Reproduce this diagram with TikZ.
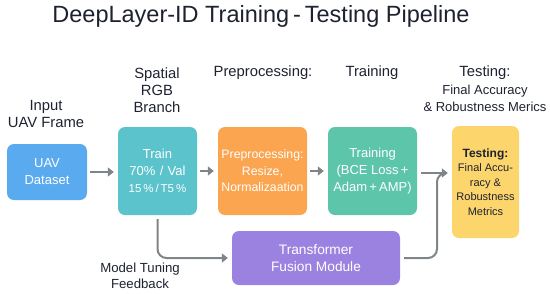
\documentclass[tikz,border=0pt]{standalone}
\usepackage{fontspec}
\setmainfont{Liberation Sans}
\usetikzlibrary{arrows.meta}
\definecolor{cblue}{HTML}{5AAAF0}
\definecolor{cteal}{HTML}{5BC3CC}
\definecolor{corange}{HTML}{FBA550}
\definecolor{cgreen}{HTML}{5DC5AA}
\definecolor{cyellow}{HTML}{FCD66C}
\definecolor{cpurple}{HTML}{9C82E0}
\definecolor{ctext}{HTML}{1E2230}
\definecolor{carrow}{HTML}{7F8488}
\begin{document}
\begin{tikzpicture}[x=1pt,y=-1pt,
  box/.style={rounded corners=7pt, align=center, inner sep=0pt, text=white,
    font=\fontsize{13}{17}\selectfont},
  lab/.style={align=center, text=ctext, font=\fontsize{14.8}{17}\selectfont},
  conn/.style={draw=carrow, line width=2pt, -{Triangle[length=6pt,width=9pt]}},
  line/.style={draw=carrow, line width=2pt}]
\useasboundingbox (0,0) rectangle (550,293);
\node[text=ctext, font=\fontsize{23.5}{26}\selectfont] (title) at (261,16) {DeepLayer-ID Training\,-\,Testing Pipeline};

\node[box, fill=cblue, minimum width=80pt, minimum height=56pt] (uav) at (47,172) {UAV\\Dataset};
\node[box, fill=cteal, minimum width=79pt, minimum height=88pt] (train) at (157.5,171)
  {Train\\70\%\,\,/\,\,Val\\{\fontsize{11.5}{17}\selectfont 15\,\%\,/\,T5\,\%}};
\node[box, fill=corange, minimum width=89pt, minimum height=88pt, font=\fontsize{12.3}{16.5}\selectfont] (pre) at (262.5,171)
  {Preprocessing:\\Resize,\\Normalizaation};
\node[box, fill=cgreen, minimum width=89pt, minimum height=88pt] (trn) at (372.5,171)
  {Training\\(BCE Loss\,+\\Adam\,+\,AMP)};
\node[box, fill=cyellow, text=ctext, minimum width=67pt, minimum height=112pt, font=\fontsize{11}{14.5}\selectfont] (test) at (485.5,182)
  {{\bfseries\fontsize{12}{14.5}\selectfont Testing:}\\Final Accu-\\racy \&\\Robustness\\Metrics};
\node[box, fill=cpurple, minimum width=168pt, minimum height=54pt, font=\fontsize{13.7}{17}\selectfont] (tf) at (316,258)
  {Transformer\\Fusion Module};

\node[lab] (l1) at (46,114) {Input\\UAV Frame};
\node[lab] (l2) at (157,90) {Spatial\\RGB\\Branch};
\node[lab] (l3) at (263,73) {Preprocessing:};
\node[lab] (l4) at (372,73) {Training};
\node[lab] (l5) at (485,73) {Testing:};
\node[lab, font=\fontsize{13}{16.5}\selectfont] (l6) at (485,98.5) {Final Accuracy\\\& Robustness Merics};
\node[lab, font=\fontsize{13.2}{16}\selectfont] (l7) at (140,276) {Model Tuning\\Feedback};

\draw[conn] ([xshift=3pt]uav.east) -- ([xshift=-4pt]train.west |- uav.east);
\draw[conn] ([xshift=3pt]train.east) -- ([xshift=-4pt]pre.west);
\draw[conn] ([xshift=3pt]pre.east) -- ([xshift=-4pt]trn.west);
\coordinate (j) at (437,173);
\draw[conn] ([xshift=4pt]trn.east |- j) -- ([xshift=-4pt]test.west |- j);
\draw[line, rounded corners=9pt] ([xshift=4pt]tf.east) -| (j) -- ++(8,0);
\draw[conn, rounded corners=9pt] ([yshift=-4pt]train.south) |- ([xshift=-4pt]tf.west);
\end{tikzpicture}
\end{document}
